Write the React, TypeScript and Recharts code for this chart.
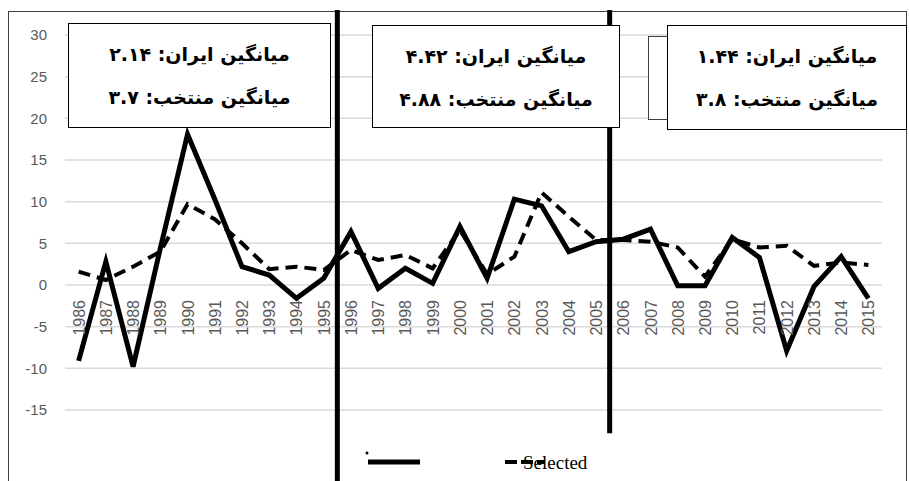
import { LineChart, Line, XAxis, YAxis, CartesianGrid, ReferenceLine } from 'recharts';

const years = [
    1986, 1987, 1988, 1989, 1990, 1991, 1992, 1993, 1994, 1995,
    1996, 1997, 1998, 1999, 2000, 2001, 2002, 2003, 2004, 2005,
    2006, 2007, 2008, 2009, 2010, 2011, 2012, 2013, 2014, 2015,
];

// رشد ایران (solid)
const iranValues = [
    -9.1, 2.8, -9.8, 4.4, 18.1, 10.3, 2.2, 1.2, -1.6, 0.8,
    6.4, -0.4, 2.0, 0.2, 7.0, 0.8, 10.3, 9.5, 4.0, 5.2,
    5.5, 6.7, -0.1, -0.1, 5.7, 3.3, -7.9, -0.2, 3.4, -1.6,
];

// کشورهای منتخب (dashed)
const selectedValues = [
    1.6, 0.6, 2.2, 4.0, 9.7, 7.9, 5.0, 1.9, 2.2, 1.8,
    4.2, 3.0, 3.6, 2.0, 6.6, 1.3, 3.4, 11.1, 8.2, 5.4,
    5.4, 5.2, 4.5, 1.0, 5.5, 4.5, 4.7, 2.3, 2.7, 2.4,
];

const yTicks = [-15, -10, -5, 0, 5, 10, 15, 20, 25, 30];
const periodBreaks = [1995.5, 2005.5];

const boxes = [
    { iran: 'میانگین ایران: ۲.۱۴', selected: 'میانگین منتخب: ۳.۷' },
    { iran: 'میانگین ایران: ۴.۴۲', selected: 'میانگین منتخب: ۴.۸۸' },
    { iran: 'میانگین ایران: ۱.۴۴', selected: 'میانگین منتخب: ۳.۸' },
];

const legendLabels = ['', 'Selected'];

const data = years.map((year, i) => ({
    year,
    iran: iranValues[i],
    selected: selectedValues[i],
}));

const W = 909;
const H = 481;
const TOP = 35;
const BOTTOM = 410;
const X_AXIS_H = 30;
const Y_MIN = -15;
const Y_MAX = 30;
const zeroY = TOP + ((BOTTOM - TOP) * Y_MAX) / (Y_MAX - Y_MIN);

function YearTick({ x, payload }: any) {
    return (
        <text
            transform={`translate(${x + 6}, ${zeroY + 15}) rotate(-90)`}
            textAnchor="end"
            fill="#595959"
            fontSize={16}
            fontFamily="'Liberation Sans', Arial, sans-serif"
        >
            {payload.value}
        </text>
    );
}

function ChartLegend() {
    return (
        <svg width={W} height={36} style={{ position: 'absolute', left: 0, top: 445 }}>
            <circle cx={367} cy={8} r={1.5} fill="#000" />
            <line x1={368} x2={420} y1={17} y2={17} stroke="#000" strokeWidth={5} />
            <line x1={505} x2={545} y1={17} y2={17} stroke="#000" strokeWidth={4} strokeDasharray="12 4" />
            <text x={523} y={24} fontSize={19} fontFamily="'Liberation Serif', 'Times New Roman', serif" fill="#000">
                {legendLabels[1]}
            </text>
            <text x={394} y={24} fontSize={19}>{legendLabels[0]}</text>
        </svg>
    );
}

const boxText: React.CSSProperties = {
    fontFamily: "'DejaVu Sans', sans-serif",
    fontWeight: 'bold',
    fontSize: 19,
    direction: 'rtl',
    textAlign: 'center',
    lineHeight: '43px',
    color: '#000',
};

const boxPos = [
    { left: 68, top: 23, width: 263, height: 105 },
    { left: 372, top: 25, width: 248, height: 103 },
    { left: 667, top: 25, width: 240, height: 105 },
];

export default function App() {
    return (
        <div style={{ position: 'absolute', left: 0, top: 0, width: W, height: H, overflow: 'hidden', background: '#fff' }}>
            <div
                style={{
                    position: 'absolute',
                    left: 8,
                    top: 11,
                    width: 897,
                    height: 500,
                    border: '1px solid #404040',
                }}
            />
            <LineChart
                width={W}
                height={H}
                data={data}
                margin={{ top: TOP, right: 27, bottom: H - BOTTOM - X_AXIS_H, left: 0 }}
                style={{ position: 'absolute', left: 0, top: 0 }}
            >
                <CartesianGrid vertical={false} stroke="#d9d9d9" strokeWidth={1.5} />
                <XAxis
                    dataKey="year"
                    type="number"
                    domain={[1985.5, 2015.5]}
                    ticks={years}
                    interval={0}
                    height={X_AXIS_H}
                    axisLine={false}
                    tickLine={false}
                    tick={(props: any) => <YearTick {...props} />}
                />
                <YAxis
                    domain={[Y_MIN, Y_MAX]}
                    ticks={yTicks}
                    width={65}
                    axisLine={false}
                    tickLine={false}
                    tickSize={0}
                    tickMargin={18}
                    tick={{ fill: '#595959', fontSize: 15, fontFamily: "'Liberation Sans', Arial, sans-serif" }}
                />
                <ReferenceLine
                    segment={[{ x: periodBreaks[0], y: 33 }, { x: periodBreaks[0], y: -25 }]}
                    stroke="#000"
                    strokeWidth={5}
                    ifOverflow="visible"
                />
                <ReferenceLine
                    segment={[{ x: periodBreaks[1], y: 33 }, { x: periodBreaks[1], y: -17.8 }]}
                    stroke="#000"
                    strokeWidth={5}
                    ifOverflow="visible"
                />
                <Line
                    type="linear"
                    dataKey="selected"
                    name="Selected"
                    stroke="#000"
                    strokeWidth={4}
                    strokeDasharray="12 7"
                    dot={false}
                    isAnimationActive={false}
                />
                <Line
                    type="linear"
                    dataKey="iran"
                    name="Iran"
                    stroke="#000"
                    strokeWidth={5}
                    dot={false}
                    isAnimationActive={false}
                />
            </LineChart>
            <ChartLegend />
            <div
                style={{
                    position: 'absolute',
                    left: 648,
                    top: 36,
                    width: 40,
                    height: 82,
                    border: '1px solid #404040',
                    background: '#fff',
                }}
            />
            {boxes.map((b, i) => (
                <div
                    key={i}
                    style={{
                        position: 'absolute',
                        boxSizing: 'border-box',
                        ...boxPos[i],
                        border: '1.5px solid #000',
                        background: '#fff',
                        paddingTop: 9,
                        ...boxText,
                    }}
                >
                    <div>{b.iran}</div>
                    <div>{b.selected}</div>
                </div>
            ))}
        </div>
    );
}
